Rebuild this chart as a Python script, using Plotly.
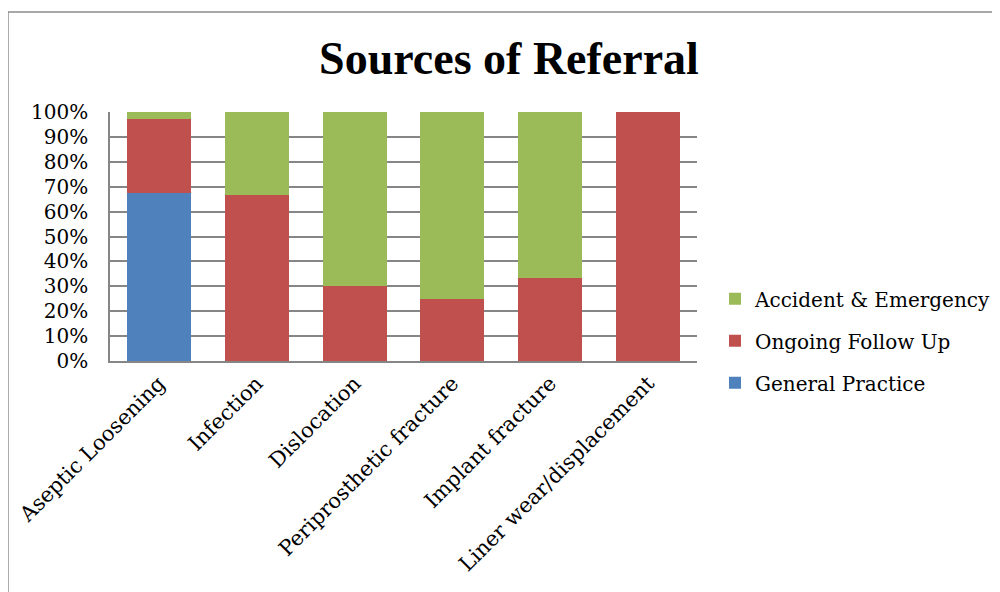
import plotly.graph_objects as go

categories = ["Aseptic Loosening", "Infection", "Dislocation",
              "Periprosthetic fracture", "Implant fracture", "Liner wear/displacement"]
general_practice = [0.676, 0, 0, 0, 0, 0]
ongoing_follow_up = [0.297, 0.667, 0.30, 0.25, 0.333, 1.0]
accident_emergency = [0.027, 0.333, 0.70, 0.75, 0.667, 0]

# name, values, colour, legend rank (A&E listed first)
series = [
    ("General Practice", general_practice, "#4F81BD", 3),
    ("Ongoing Follow Up", ongoing_follow_up, "#C0504D", 2),
    ("Accident & Emergency", accident_emergency, "#9BBB59", 1),
]

FONT = "DejaVu Serif"

fig = go.Figure()
for name, vals, color, rank in series:
    fig.add_trace(go.Bar(
        x=categories,
        y=vals,
        name=name,
        legendgroup=name,
        legendrank=rank,
        marker=dict(color=color, line=dict(width=0)),
    ))

# gray outer chart frame (runs off the right and bottom of the canvas)
fig.add_shape(type="rect", xref="paper", yref="paper",
              x0=-0.1738, x1=1.53, y0=-1.0, y1=1.4016,
              line=dict(color="#8C8C8C", width=1.5), fillcolor="rgba(0,0,0,0)",
              layer="below")

# the page body adds an 8px offset, so margins are trimmed to compensate
fig.update_layout(
    width=1000, height=592,
    barmode="stack",
    bargap=0.345,
    plot_bgcolor="white",
    paper_bgcolor="white",
    margin=dict(l=102, r=311, t=104, b=239, autoexpand=False),
    font=dict(family=FONT, size=20, color="black"),
    title=dict(
        text="Sources of Referral",
        font=dict(family="Liberation Serif", size=46, color="black", weight="bold"),
        x=0.501, xanchor="center",
        y=1 - 50 / 592, yanchor="middle", yref="container",
    ),
    legend=dict(
        xref="container", yref="container",
        x=0.707, xanchor="left",
        y=0.5416, yanchor="top",
        traceorder="grouped",
        tracegroupgap=13,
        font=dict(family=FONT, size=20),
        itemwidth=30,
    ),
    xaxis=dict(
        automargin=False,
        tickangle=-45,
        showline=True, linecolor="#868686", linewidth=1.5,
        showgrid=False,
        ticks="",
        tickfont=dict(family=FONT, size=21),
    ),
    yaxis=dict(
        automargin=False,
        range=[0, 1],
        tickvals=[i / 10 for i in range(11)],
        tickformat=".0%",
        showline=True, linecolor="#868686", linewidth=1.5,
        showgrid=True, gridcolor="#868686", gridwidth=1.5,
        zeroline=False,
        ticks="",
        ticklabelstandoff=16,
        tickfont=dict(family=FONT, size=20),
    ),
)

fig.write_html("out.html")
